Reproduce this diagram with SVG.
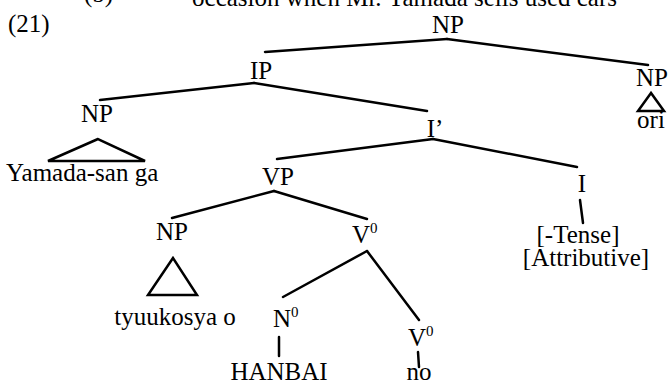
<svg xmlns="http://www.w3.org/2000/svg" width="668" height="385" viewBox="0 0 668 385">
<style>
text{font-family:"Liberation Serif","Times New Roman",serif;font-size:25px;fill:#000}
.c{text-anchor:middle}
.sup{font-size:15px}
line,polygon{stroke:#000;stroke-width:2.5;fill:none;stroke-linecap:round;stroke-linejoin:miter}
</style>
<rect width="668" height="385" fill="#fff"/>
<g id="caption">
<text x="84" y="2">(b)</text>
<text x="617" y="6" text-anchor="end">occasion when Mr. Yamada sells used cars</text>
<text x="8" y="32">(21)</text>
</g>
<g id="connectors">
<line x1="447" y1="39" x2="265" y2="52"/>
<line x1="447" y1="39" x2="648" y2="65"/>
<line x1="254" y1="83" x2="100" y2="100"/>
<line x1="254" y1="83" x2="427" y2="111"/>
<line x1="433" y1="139" x2="277" y2="159"/>
<line x1="433" y1="139" x2="577" y2="167"/>
<line x1="274" y1="191" x2="172" y2="218"/>
<line x1="274" y1="191" x2="367" y2="219"/>
<line x1="367" y1="251" x2="283" y2="297"/>
<line x1="367" y1="251" x2="419" y2="320"/>
<line x1="580" y1="200" x2="583" y2="223"/>
<line x1="279" y1="337" x2="279" y2="356"/>
<line x1="418" y1="352" x2="419" y2="367"/>
</g>
<g id="np-top"><text class="c" x="448" y="33">NP</text></g>
<g id="ip"><text class="c" x="261" y="79">IP</text></g>
<g id="np-ori"><text class="c" x="652" y="86">NP</text>
<polygon points="651,93 638,111 664,111"/>
<text class="c" x="651" y="128">ori</text></g>
<g id="np-yamada"><text class="c" x="97" y="122">NP</text>
<polygon points="98,139 48,161 145,161"/>
<text x="6" y="181">Yamada-san ga</text></g>
<g id="ibar"><text class="c" x="435" y="137">I’</text></g>
<g id="vp"><text class="c" x="278" y="185">VP</text></g>
<g id="i"><text class="c" x="582" y="192">I</text>
<text class="c" x="578" y="243">[-Tense]</text>
<text class="c" x="586" y="266">[Attributive]</text></g>
<g id="np-tyuukosya"><text class="c" x="172" y="240">NP</text>
<polygon points="173,258 148,295 197,295"/>
<text class="c" x="175" y="325">tyuukosya o</text></g>
<g id="v0"><text x="352" y="243">V<tspan class="sup" dy="-10">0</tspan></text></g>
<g id="n0"><text x="273" y="327">N<tspan class="sup" dy="-10">0</tspan></text>
<text class="c" x="279" y="380">HANBAI</text></g>
<g id="v0-no"><text x="408" y="346">V<tspan class="sup" dy="-10">0</tspan></text>
<text class="c" x="419" y="380">no</text></g>
</svg>
